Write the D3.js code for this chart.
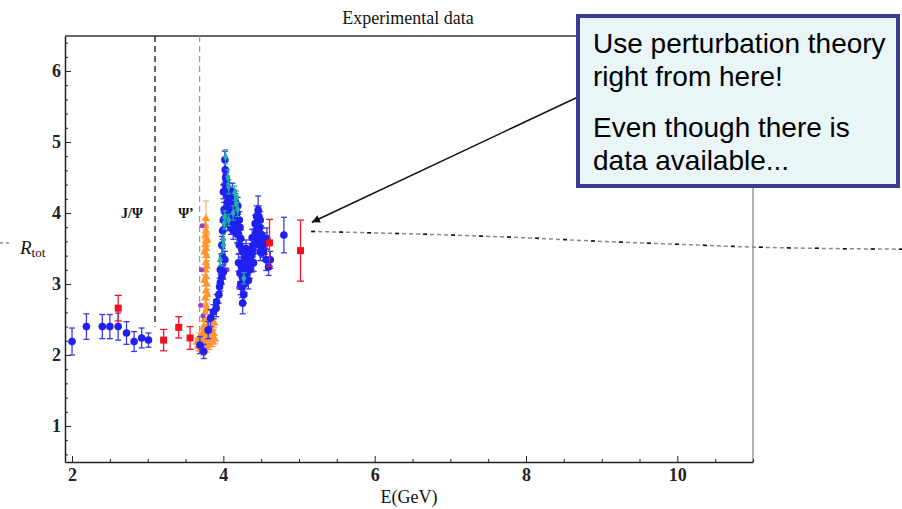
<html>
<head>
<script src="https://d3js.org/d3.v7.min.js"></script>
<style>
  body { margin: 0; background: #fff; }
  svg text { font-family: "Liberation Serif", "Times New Roman", serif; fill: #111; }
  .axis text { font-size: 18px; font-weight: bold; fill: #222; }
  .axis path, .axis line { stroke: #222; }
  svg text.box-text { font-family: "Liberation Sans", Arial, sans-serif; font-size: 28px; fill: #000; }
</style>
</head>
<body>
<svg id="chart" width="902" height="509"></svg>
<script>
// ticks
const xMajorTicks = [2, 4, 6, 8, 10];
const yMajorTicks = [1, 2, 3, 4, 5, 6];

// [E, R, error]
const blueData = [
  [2.00,2.19,0.19],[2.19,2.40,0.18],[2.40,2.40,0.17],[2.50,2.40,0.17],[2.61,2.40,0.19],
  [2.72,2.31,0.16],[2.82,2.19,0.14],[2.92,2.24,0.14],[3.01,2.21,0.10],
  [3.69,2.14,0.12],[3.74,2.05,0.10],[3.80,2.35,0.12],[3.83,2.52,0.12],[3.87,2.61,0.10],
  [3.905,2.66,0.12],[3.91,2.75,0.10],[3.94,2.85,0.12],[3.95,2.96,0.12],[3.96,3.02,0.12],
  [3.96,3.20,0.12],[3.98,3.10,0.10],[3.99,3.38,0.12],[4.00,3.17,0.10],[3.98,3.55,0.12],
  [4.02,3.34,0.12],[3.99,3.75,0.12],[4.00,3.90,0.10],[4.01,4.05,0.10],[4.00,4.30,0.10],
  [4.02,4.75,0.12],[4.025,4.61,0.12],[4.03,4.50,0.10],[4.035,4.38,0.10],[4.04,4.46,0.12],
  [4.045,4.25,0.10],[4.05,4.15,0.10],[4.06,4.35,0.12],[4.065,4.05,0.10],[4.07,4.22,0.10],
  [4.08,3.98,0.10],[4.09,4.23,0.12],[4.095,4.10,0.10],[4.10,4.00,0.10],[4.11,4.16,0.12],
  [4.12,3.92,0.10],[4.125,4.05,0.10],[4.13,4.04,0.12],[4.14,3.88,0.10],[4.15,3.90,0.12],
  [4.155,4.08,0.10],[4.16,3.85,0.10],[4.17,3.95,0.12],[4.18,4.00,0.12],[4.19,3.82,0.10],
  [4.20,3.70,0.12],[4.21,3.55,0.12],[4.23,3.64,0.12],
  [4.03,4.00,0.10],[4.05,3.95,0.10],[4.08,4.30,0.12],[4.12,4.30,0.12],[4.14,4.20,0.12],
  [4.16,4.15,0.12],[4.19,4.10,0.12],[4.21,3.90,0.12],[4.22,3.80,0.12],[4.06,3.85,0.10],
  [4.10,3.80,0.10],[4.13,3.75,0.12],[4.18,3.70,0.12],[4.24,3.50,0.12],[4.20,3.30,0.12],
  [4.22,3.15,0.12],[4.23,3.00,0.15],[4.24,3.25,0.12],[4.26,3.45,0.12],[4.28,3.35,0.12],
  [4.30,3.50,0.12],
  [4.245,2.96,0.15],[4.25,3.10,0.12],[4.255,2.73,0.15],[4.266,3.20,0.12],[4.266,3.08,0.12],
  [4.27,2.85,0.12],[4.28,3.00,0.12],[4.29,3.25,0.12],[4.31,3.15,0.12],[4.32,3.30,0.12],
  [4.33,3.40,0.12],[4.35,3.45,0.12],[4.36,3.35,0.10],[4.377,3.29,0.12],[4.38,3.43,0.12],
  [4.39,3.50,0.12],[4.40,3.55,0.12],[4.41,3.65,0.12],[4.42,3.57,0.12],[4.43,3.70,0.12],
  [4.44,3.76,0.12],[4.45,3.85,0.15],[4.46,4.04,0.20],[4.47,3.95,0.15],[4.48,3.80,0.12],
  [4.487,3.90,0.12],[4.50,3.70,0.12],[4.51,3.67,0.12],[4.52,3.50,0.12],[4.53,3.45,0.12],
  [4.42,3.85,0.12],[4.44,3.95,0.15],[4.38,3.65,0.12],[4.46,3.60,0.12],[4.48,3.55,0.12],
  [4.49,3.45,0.12],[4.40,3.30,0.12],[4.35,3.20,0.12],[4.33,3.05,0.12],
  [4.55,3.57,0.15],[4.566,3.34,0.15],[4.575,3.64,0.15],[4.597,3.24,0.12],[4.62,3.34,0.12],
  [4.80,3.69,0.25]
];

const redData = [
  [2.61,2.66,0.18],[3.21,2.21,0.15],[3.41,2.39,0.15],[3.56,2.24,0.16],[4.61,3.58,0.33],[5.02,3.47,0.43]
];

const orangeData = [
  [3.65,2.18,0.06],[3.67,2.12,0.06],[3.68,2.25,0.06],[3.69,2.15,0.06],[3.70,2.08,0.06],
  [3.71,2.22,0.06],[3.72,2.30,0.06],[3.72,2.12,0.06],[3.73,2.05,0.06],[3.74,2.20,0.06],
  [3.75,2.35,0.06],[3.76,2.15,0.06],[3.77,2.28,0.06],[3.78,2.10,0.06],[3.79,2.42,0.06],
  [3.80,2.22,0.06],[3.81,2.33,0.06],[3.82,2.14,0.06],[3.83,2.48,0.06],[3.84,2.26,0.06],
  [3.85,2.36,0.06],[3.86,2.18,0.06],[3.87,2.30,0.06],[3.88,2.45,0.06],[3.89,2.22,0.06],
  [3.75,2.50,0.08],[3.76,2.60,0.08],[3.77,2.70,0.08],[3.76,2.80,0.08],[3.77,2.90,0.08],
  [3.78,3.00,0.08],[3.77,3.10,0.08],[3.76,3.20,0.08],[3.77,3.30,0.08],[3.78,3.40,0.08],
  [3.77,3.50,0.08],[3.76,3.55,0.08],[3.77,3.60,0.08],[3.76,3.68,0.08],[3.77,3.75,0.08],
  [3.76,3.82,0.10],[3.77,3.92,0.25],[3.78,2.65,0.08],[3.79,2.85,0.08],[3.78,3.25,0.08],
  [3.75,3.05,0.08],[3.74,2.40,0.08],[3.79,3.62,0.08],[3.75,3.45,0.08]
];

const tealData = [
  [4.03,4.79,0.10],[4.06,4.51,0.10],[4.07,4.37,0.10],[4.15,4.28,0.10],[4.17,4.21,0.10],
  [4.17,4.14,0.10],[4.02,3.95,0.08],[4.01,3.85,0.08],[4.07,3.90,0.08],[4.00,3.62,0.08],
  [4.00,3.55,0.08],[3.96,3.34,0.08],[4.27,3.08,0.08],[4.13,4.00,0.10],[4.19,4.05,0.10]
];

const purpleData = [
  [3.72,3.82],[3.73,2.55],[3.70,2.70],[4.00,4.40],[4.02,4.55],[4.20,2.95],
  [4.25,3.30],[4.50,3.40],[4.05,3.20],[4.58,3.62],[3.71,3.20]
];

// perturbative curve
const theoryE = [5.16, 6, 7, 8, 9, 10, 11, 12, 13];
const theoryR = [3.74, 3.72, 3.69, 3.65, 3.60, 3.56, 3.52, 3.50, 3.49];

const resonanceE = [3.097, 3.686];
const resonanceLow = [2.40, 2.05];
const resonanceNames = ["J/\u03A8", "\u03A8\u2019"];

const noteLines = ["Use perturbation theory", "right from here!", "Even though there is", "data available..."];
const arrowTip = [5.17, 3.87];

const svg = d3.select("svg#chart");
const width = +svg.attr("width");
const height = +svg.attr("height");
const margin = { top: 36, right: 149, bottom: 47, left: 65 };

const x = d3.scaleLinear().domain([1.907, 11.0]).range([margin.left, width - margin.right]);
const y = d3.scaleLinear().domain([0.493, 6.493]).range([height - margin.bottom, margin.top]);

const x0 = x.range()[0], x1 = x.range()[1];
const y0 = y.range()[0], y1 = y.range()[1];

// frame top and right
svg.append("line").attr("x1", x0).attr("x2", x1).attr("y1", y1).attr("y2", y1)
  .attr("stroke", "#333").attr("stroke-width", 1.5);
svg.append("line").attr("x1", x1).attr("x2", x1).attr("y1", y1).attr("y2", y0)
  .attr("stroke", "#999").attr("stroke-width", 1.5);

// x axis
const xMinor = d3.range(2, 11.01, 0.5).filter(v => !xMajorTicks.includes(v));
svg.append("g").attr("class", "axis").attr("transform", "translate(0," + y0 + ")")
  .call(d3.axisBottom(x).tickValues(xMinor).tickSize(-3).tickSizeOuter(0).tickFormat(""))
  .call(g => g.select(".domain").remove());
svg.append("g").attr("class", "axis").attr("transform", "translate(0," + y0 + ")")
  .call(d3.axisBottom(x).tickValues(xMajorTicks).tickSize(-6).tickSizeOuter(0).tickPadding(6).tickFormat(d3.format("d")))
  .call(g => g.select(".domain").attr("stroke-width", 1.5));

// y axis
const yMinor = d3.range(0.6, 6.5, 0.2).filter(v => Math.abs(v - Math.round(v)) > 0.01);
svg.append("g").attr("class", "axis").attr("transform", "translate(" + x0 + ",0)")
  .call(d3.axisLeft(y).tickValues(yMinor).tickSize(-3).tickSizeOuter(0).tickFormat(""))
  .call(g => g.select(".domain").remove());
svg.append("g").attr("class", "axis").attr("transform", "translate(" + x0 + ",0)")
  .call(d3.axisLeft(y).tickValues(yMajorTicks).tickSize(-6).tickSizeOuter(0).tickPadding(4).tickFormat(d3.format("d")))
  .call(g => g.select(".domain").attr("stroke-width", 1.5));

// labels
svg.append("text").attr("x", 408).attr("y", 24).attr("text-anchor", "middle")
  .attr("font-size", "18px").text("Experimental data");
svg.append("text").attr("x", 409).attr("y", 503).attr("text-anchor", "middle")
  .attr("font-size", "18px").text("E(GeV)");
const rl = svg.append("text").attr("x", 20).attr("y", 254).attr("font-size", "19px");
rl.append("tspan").attr("font-style", "italic").text("R");
rl.append("tspan").attr("font-size", "13px").attr("dy", 3).text("tot");

// little dashes left of the axis label
svg.append("line").attr("x1", 0).attr("x2", 12).attr("y1", y(3.58)).attr("y2", y(3.58))
  .attr("stroke", "#777").attr("stroke-width", 1.2).attr("stroke-dasharray", "3,3");

// resonance lines
resonanceE.forEach((e, i) => {
  svg.append("line").attr("x1", x(e)).attr("x2", x(e)).attr("y1", y1).attr("y2", y(resonanceLow[i]))
    .attr("stroke", i === 0 ? "#333" : "#999").attr("stroke-width", i === 0 ? 1.5 : 1.2)
    .attr("stroke-dasharray", "6,4");
});
svg.append("text").attr("x", 132).attr("y", 218).attr("text-anchor", "middle")
  .attr("font-size", "14px").attr("font-weight", "bold").text(resonanceNames[0]);
svg.append("text").attr("x", 186).attr("y", 218).attr("text-anchor", "middle")
  .attr("font-size", "14px").attr("font-weight", "bold").text(resonanceNames[1]);

// theory curve
const theory = theoryE.map((e, i) => [e, theoryR[i]]);
svg.append("path").datum(theory)
  .attr("d", d3.line().x(d => x(d[0])).y(d => y(d[1])).curve(d3.curveMonotoneX))
  .attr("fill", "none").attr("stroke", "#888").attr("stroke-width", 1.5).attr("stroke-dasharray", "4,3");
svg.append("path").datum(theory)
  .attr("d", d3.line().x(d => x(d[0])).y(d => y(d[1])).curve(d3.curveMonotoneX))
  .attr("fill", "none").attr("stroke", "#111").attr("stroke-width", 1.5).attr("stroke-dasharray", "4,24");

// error bars + markers
const points = svg.append("g");
function errorBars(data, color, cap, sw) {
  data.forEach(d => {
    const cx = x(d[0]);
    points.append("line").attr("x1", cx).attr("x2", cx).attr("y1", y(d[1] - d[2])).attr("y2", y(d[1] + d[2]))
      .attr("stroke", color).attr("stroke-width", sw);
    [d[1] - d[2], d[1] + d[2]].forEach(v => {
      points.append("line").attr("x1", cx - cap).attr("x2", cx + cap).attr("y1", y(v)).attr("y2", y(v))
        .attr("stroke", color).attr("stroke-width", sw);
    });
  });
}

errorBars(orangeData, "#f7a050", 3, 1);
orangeData.forEach(d => {
  points.append("path").attr("d", d3.symbol(d3.symbolTriangle).size(30)())
    .attr("transform", "translate(" + x(d[0]) + "," + y(d[1]) + ")").attr("fill", "#ff9430");
});

purpleData.forEach(d => {
  points.append("circle").attr("cx", x(d[0])).attr("cy", y(d[1])).attr("r", 2.5).attr("fill", "#9a3cd0");
});

errorBars(blueData, "#3a3ae8", 3, 1.3);
blueData.forEach(d => {
  points.append("circle").attr("cx", x(d[0])).attr("cy", y(d[1])).attr("r", 3.8).attr("fill", "#2020f0");
});

errorBars(tealData, "#20a8a0", 2.5, 1.2);
tealData.forEach(d => {
  points.append("path").attr("d", d3.symbol(d3.symbolDiamond).size(22)())
    .attr("transform", "translate(" + x(d[0]) + "," + y(d[1]) + ")").attr("fill", "#1fb0a8");
});

errorBars(redData, "#f01828", 3.5, 1.3);
redData.forEach(d => {
  points.append("rect").attr("x", x(d[0]) - 3.5).attr("y", y(d[1]) - 3.5)
    .attr("width", 7).attr("height", 7).attr("fill", "#f01020");
});

// arrow
svg.append("defs").append("marker").attr("id", "head")
  .attr("viewBox", "0 0 10 10").attr("refX", 10).attr("refY", 5)
  .attr("markerWidth", 10).attr("markerHeight", 8).attr("markerUnits", "userSpaceOnUse")
  .attr("orient", "auto")
  .append("path").attr("d", "M0,0L10,5L0,10z").attr("fill", "#111");
svg.append("line").attr("x1", 578).attr("y1", 97).attr("x2", x(arrowTip[0])).attr("y2", y(arrowTip[1]))
  .attr("stroke", "#111").attr("stroke-width", 1.5).attr("marker-end", "url(#head)");

// note box
svg.append("rect").attr("x", 578).attr("y", 16).attr("width", 320).attr("height", 170)
  .attr("fill", "#e9f5f7").attr("stroke", "#3c3a98").attr("stroke-width", 4);
const lineY = [53, 86, 137, 170];
noteLines.forEach((t, i) => {
  svg.append("text").attr("class", "box-text").attr("x", 593).attr("y", lineY[i]).text(t);
});
</script>
</body>
</html>
